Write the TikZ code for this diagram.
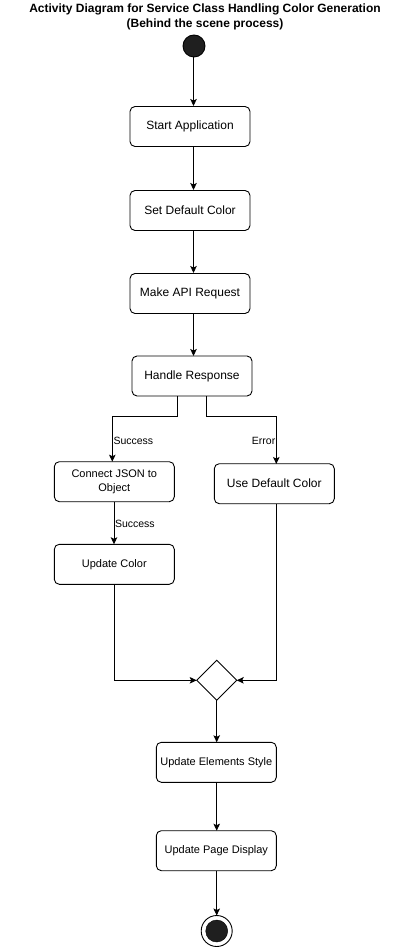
\documentclass[tikz,border=0pt]{standalone}
\usepackage{fontspec}
\setmainfont{Liberation Sans}
\usetikzlibrary{arrows.meta,shapes.geometric}
\begin{document}
\begin{tikzpicture}[x=1pt,y=-1pt,
  every node/.style={inner sep=0pt,outer sep=0pt},
  act/.style={draw,rounded corners=5pt,minimum width=120pt,minimum height=40pt,align=center,line width=0.9pt,font=\fontsize{12}{14}\selectfont},
  acts/.style={act,font=\fontsize{11}{14.5}\selectfont},
  lbl/.style={font=\fontsize{10.5}{12}\selectfont},
  flow/.style={line width=0.9pt,-{Stealth[length=7pt,width=6.5pt,inset=1.5pt]}}]
\useasboundingbox (0,0) rectangle (410,949);
\node[font=\bfseries\fontsize{12}{15}\selectfont,align=center] (title) at (205,16.5) {Activity Diagram for Service Class Handling Color Generation\\(Behind the scene process)};
\node[circle,fill=black!88,draw=black,line width=0.9pt,minimum size=22pt] (start) at (194,46) {};
\node[act] (app) at (190,126.5) {Start Application};
\node[act] (def) at (190,210.5) {Set Default Color};
\node[act] (api) at (190,293.5) {Make API Request};
\node[act] (resp) at (192,376) {Handle Response};
\node[acts] (json) at (114.3,481.7) {Connect JSON to\\Object};
\node[act] (usedef) at (274.3,483.7) {Use Default Color};
\node[acts] (upd) at (114.3,564.3) {Update Color};
\node[diamond,draw,line width=0.9pt,minimum width=40pt,minimum height=40pt] (merge) at (216.7,680.3) {};
\node[acts] (elem) at (216.3,762.3) {Update Elements Style};
\node[acts] (page) at (216.3,850.7) {Update Page Display};
\node[circle,draw,line width=0.9pt,minimum size=31pt] (endo) at (216.7,931) {};
\node[circle,fill=black!88,draw=black,minimum size=22pt] (endi) at (216.7,931) {};
\coordinate (sL) at (193.5,57);
\coordinate (sLe) at (193.5,106);
\draw[flow] (start.south -| sL) -- (sLe);
\draw[flow] (193.5,147) coordinate (a1) -- (193.5,190) coordinate (a2);
\draw[flow] (193.5,231) coordinate (b1) -- (193.5,273) coordinate (b2);
\draw[flow] (193.5,314) coordinate (c1) -- (193.5,356) coordinate (c2);
\coordinate (rl) at (177.3,396);
\coordinate (rr) at (206.3,396);
\draw[flow] (rl) |- (112.3,416) -- (112.3,461.7);
\draw[flow] (rr) |- (276.3,416) -- (276.3,464);
\node[lbl,anchor=west] (ls) at (113.5,441) {Success};
\node[lbl,anchor=east] (le) at (275.3,440.5) {Error};
\draw[flow] (114,501.7) coordinate (j1) -- (114,544.3) coordinate (j2);
\node[lbl,anchor=west] (ls2) at (115,524) {Success};
\draw[flow] (114,584.3) |- (merge.west);
\draw[flow] (276.3,503.7) |- (merge.east);
\draw[flow] (merge.south) -- (elem.north -| merge.south);
\draw[flow] (216.7,782.3) coordinate (e1) -- (216.7,830.7) coordinate (e2);
\draw[flow] (216.7,870.7) coordinate (p1) -- (endo.north);
\end{tikzpicture}
\end{document}
